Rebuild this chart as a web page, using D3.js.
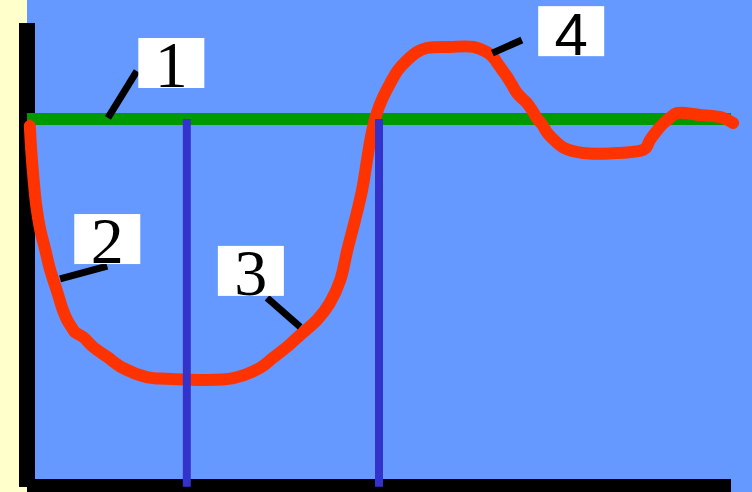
<!DOCTYPE html>
<html>
<head>
<meta charset="utf-8">
<script src="https://cdn.jsdelivr.net/npm/d3@7"></script>
<style>
  body { margin: 0; background: #6699ff; }
  svg { display: block; }
</style>
</head>
<body>
<svg width="752" height="492"></svg>
<script>
// response curve (t = time 0..100, v = level, setpoint = 100)
const curveT = [0.4, 0.6, 0.9, 1.3, 1.8, 2.6, 3.3, 4.3, 5.1, 5.7, 6.4, 6.8, 8.0, 9.4, 11.4, 13.6, 17.0, 19.9,
  24.6, 29.3, 33.1, 34.9, 36.9, 38.8, 41.2, 43.0, 44.5, 45.5, 46.6, 47.6, 48.3, 48.9, 49.6, 50.4, 51.6,
  52.7, 54.0, 55.4, 56.8, 60.1, 63.4, 65.3, 66.3, 66.8, 67.5, 68.2, 68.9, 69.6, 70.3, 71.0, 71.9, 72.4,
  73.2, 73.9, 74.6, 76.1, 79.0, 83.8, 87.1, 87.9, 88.5, 89.3, 90.3, 91.3, 92.3, 95.6, 98.9, 100.3];
const curveV = [98.1, 91.5, 84.2, 76.5, 70.5, 64.2, 58.7, 52.7, 47.8, 45.1, 42.9, 41.8, 40.4, 37.7, 35.0, 32.0, 29.5, 29.0,
  28.7, 29.2, 32.0, 34.7, 37.7, 41.0, 45.1, 49.7, 56.0, 64.2, 72.4, 80.6, 88.8, 95.6, 101.1, 105.2, 109.8,
  113.4, 116.1, 118.3, 119.4, 119.7, 119.7, 118.3, 116.7, 115.3, 113.4, 111.5, 109.3, 107.1, 105.7, 104.4, 101.9, 100.3,
  98.4, 96.2, 94.8, 92.3, 90.7, 90.7, 91.3, 92.1, 94.3, 96.4, 98.6, 100.3, 101.6, 101.1, 100.3, 98.9];

const setpoint = 100;
const markers = [22.7, 50.0];   // the two vertical time marks

// numbered callouts: label, box centre, leader start (on curve) and end
const calloutText = ['1', '2', '3', '4'];
const calloutBox = [[20.5, 115.3], [11.4, 67.2], [31.8, 58.5], [77.3, 124.0]];
const calloutFrom = [[11.5, 100.3], [4.7, 56.3], [38.8, 43.2], [66.1, 118.0]];
const calloutTo = [[15.6, 113.1], [11.4, 59.8], [34.1, 51.1], [70.3, 121.6]];

const svg = d3.select('svg');

const x = d3.scaleLinear().domain([0, 100]).range([27, 731]);
const y = d3.scaleLinear().domain([0, 100]).range([485, 119]);

// background
svg.append('rect').attr('width', 752).attr('height', 492).attr('fill', '#6699ff');
svg.append('rect').attr('width', 27).attr('height', 492).attr('fill', '#ffffcc');

// axes as thick bars
svg.append('rect').attr('x', 19).attr('y', 23).attr('width', 16).attr('height', 464).attr('fill', '#000');
svg.append('rect').attr('x', 27).attr('y', 479).attr('width', x(100) - 27).attr('height', 13).attr('fill', '#000');

// setpoint line
svg.append('line')
  .attr('x1', x(0)).attr('x2', x(100))
  .attr('y1', y(setpoint)).attr('y2', y(setpoint))
  .attr('stroke', '#009900').attr('stroke-width', 12);

// response
const pts = curveT.map((t, i) => [t, curveV[i]]);
const line = d3.line().x(d => x(d[0])).y(d => y(d[1])).curve(d3.curveCatmullRom.alpha(0.5));
svg.append('path')
  .attr('d', line(pts))
  .attr('fill', 'none')
  .attr('stroke', '#ff3300')
  .attr('stroke-width', 12)
  .attr('stroke-linecap', 'round')
  .attr('stroke-linejoin', 'round');

// vertical marks
svg.selectAll('.mark')
  .data(markers)
  .enter()
  .append('line')
  .classed('mark', true)
  .attr('x1', d => x(d)).attr('x2', d => x(d))
  .attr('y1', y(setpoint)).attr('y2', y(-0.5))
  .attr('stroke', '#3333cc').attr('stroke-width', 8);

// callouts
const callouts = calloutText.map((t, i) => ({ text: t, box: calloutBox[i], from: calloutFrom[i], to: calloutTo[i] }));

svg.selectAll('.leader')
  .data(callouts)
  .enter()
  .append('line')
  .classed('leader', true)
  .attr('x1', d => x(d.from[0])).attr('y1', d => y(d.from[1]))
  .attr('x2', d => x(d.to[0])).attr('y2', d => y(d.to[1]))
  .attr('stroke', '#000').attr('stroke-width', 7);

const g = svg.selectAll('.callout')
  .data(callouts)
  .enter()
  .append('g')
  .classed('callout', true)
  .attr('transform', d => `translate(${x(d.box[0])},${y(d.box[1])})`);

g.append('rect')
  .attr('x', -33).attr('y', -25)
  .attr('width', 66).attr('height', 50)
  .attr('fill', '#fff');

g.append('text')
  .attr('y', 24)
  .attr('text-anchor', 'middle')
  .style('font-family', d => d.text === '4' ? '"Liberation Sans", Arial, sans-serif' : '"Liberation Serif", "Times New Roman", serif')
  .style('font-size', d => d.text === '4' ? '60px' : '66px')
  .text(d => d.text);
</script>
</body>
</html>
